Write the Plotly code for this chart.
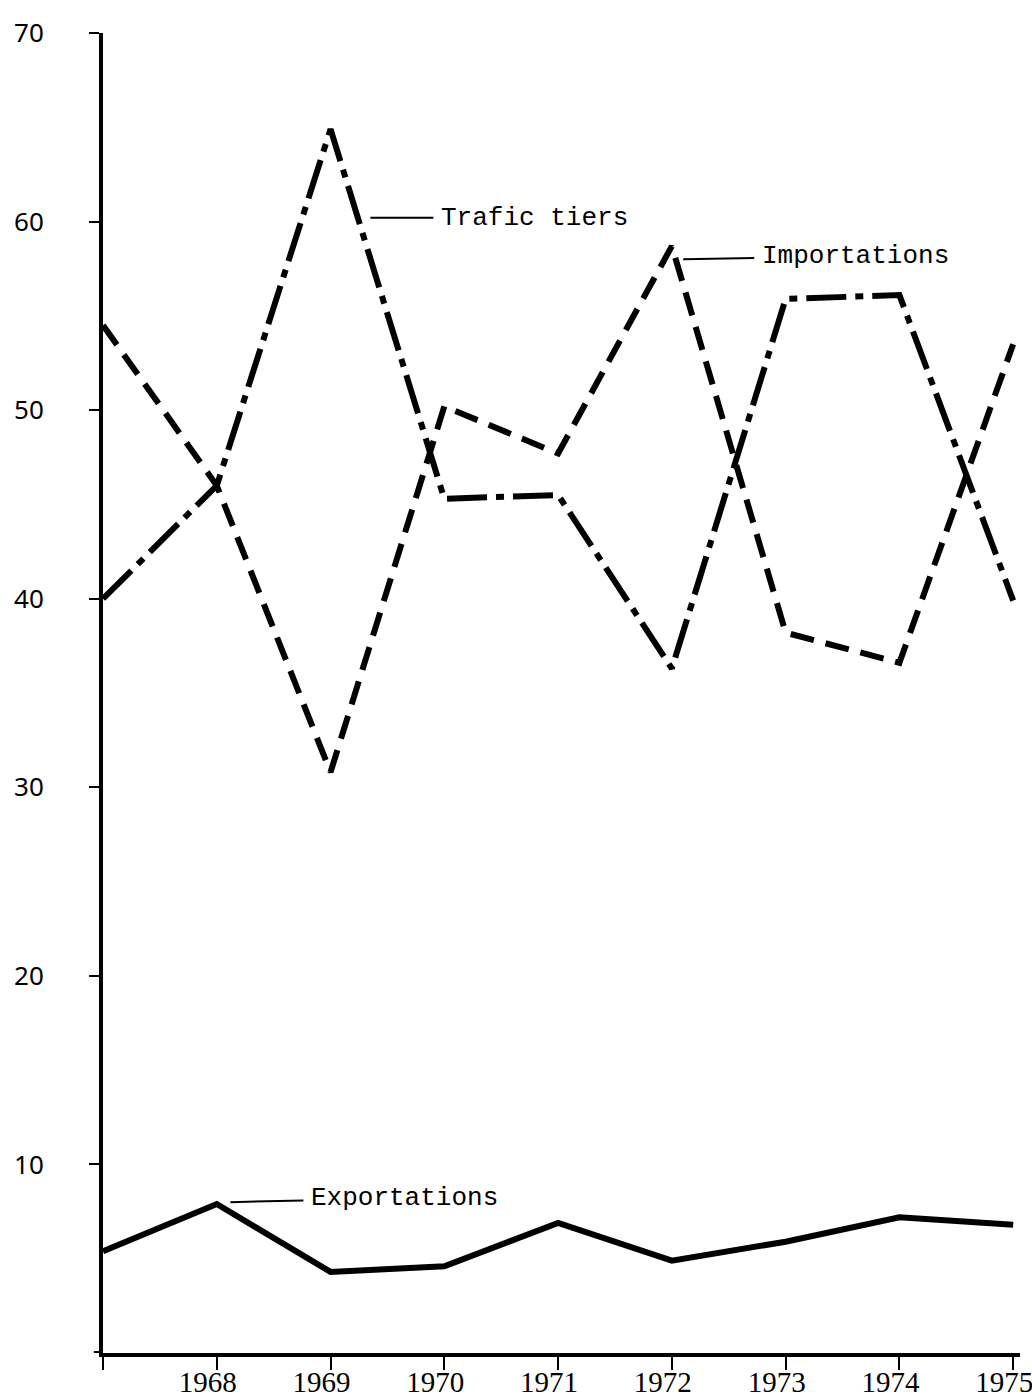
import plotly.graph_objects as go

years = [1967, 1968, 1969, 1970, 1971, 1972, 1973, 1974, 1975]
trafic_tiers = [40.0, 46.0, 64.9, 45.3, 45.5, 36.3, 55.9, 56.1, 39.9]
importations = [54.5, 46.0, 30.8, 50.2, 47.7, 58.7, 38.2, 36.6, 53.5]
exportations = [5.4, 7.9, 4.3, 4.6, 6.9, 4.9, 5.9, 7.2, 6.8]

x_tick_vals = years
x_tick_text = ["", "1968", "1969", "1970", "1971", "1972", "1973", "1974", "1975"]
y_tick_vals = [10, 20, 30, 40, 50, 60, 70]
y_tick_text = ["10", "20", "30", "40", "50", "60", "70"]

fig = go.Figure()
fig.add_trace(go.Scatter(x=years, y=trafic_tiers, mode="lines", name="Trafic tiers",
                         line=dict(color="black", width=6, dash="40px,9px,8px,9px")))
fig.add_trace(go.Scatter(x=years, y=importations, mode="lines", name="Importations",
                         line=dict(color="black", width=6, dash="24px,12px")))
fig.add_trace(go.Scatter(x=years, y=exportations, mode="lines", name="Exportations",
                         line=dict(color="black", width=6)))

ann_font = dict(family="Liberation Mono", size=26, color="black")
annotations = [
    dict(x=1969.35, y=60.2, text="Trafic tiers", ax=164, ay=0),
    dict(x=1972.10, y=58.0, text="Importations", ax=172, ay=-3),
    dict(x=1968.12, y=8.0, text="Exportations", ax=174, ay=-4),
]
for a in annotations:
    fig.add_annotation(x=a["x"], y=a["y"], xref="x", yref="y", text=a["text"],
                       showarrow=True, arrowhead=0, arrowwidth=2, arrowcolor="black",
                       ax=a["ax"], ay=a["ay"], axref="pixel", ayref="pixel",
                       standoff=0, startstandoff=0, borderpad=7, font=ann_font)

# small extension of x axis line to the left of the y axis
fig.add_shape(type="line", xref="x domain", yref="y", x0=-0.01, x1=0, y0=0, y1=0,
              line=dict(color="black", width=4))

fig.update_layout(
    width=1032, height=1400,
    margin=dict(l=103, r=12, t=33, b=47),
    paper_bgcolor="white", plot_bgcolor="white",
    showlegend=False,
    xaxis=dict(range=[1967, 1975.06], showgrid=False, zeroline=False,
               showline=True, linecolor="black", linewidth=4,
               ticks="outside", ticklen=13, tickwidth=2, tickcolor="black",
               tickvals=x_tick_vals, ticktext=x_tick_text,
               ticklabelstandoff=-13, ticklabelshift=-9,
               ticklabeloverflow="allow",
               tickfont=dict(family="Liberation Serif", size=29, color="black"),
               automargin=False),
    yaxis=dict(range=[0, 70], showgrid=False, zeroline=False,
               showline=True, linecolor="black", linewidth=4,
               ticks="outside", ticklen=10, tickwidth=2, tickcolor="black",
               tickvals=y_tick_vals, ticktext=y_tick_text,
               ticklabelstandoff=40,
               tickfont=dict(family="Noto Sans", size=26, color="black"),
               automargin=False),
)

fig.write_html("out.html", config={"displayModeBar": False},
               post_script="document.body.style.margin='0';document.body.style.overflow='hidden';")
